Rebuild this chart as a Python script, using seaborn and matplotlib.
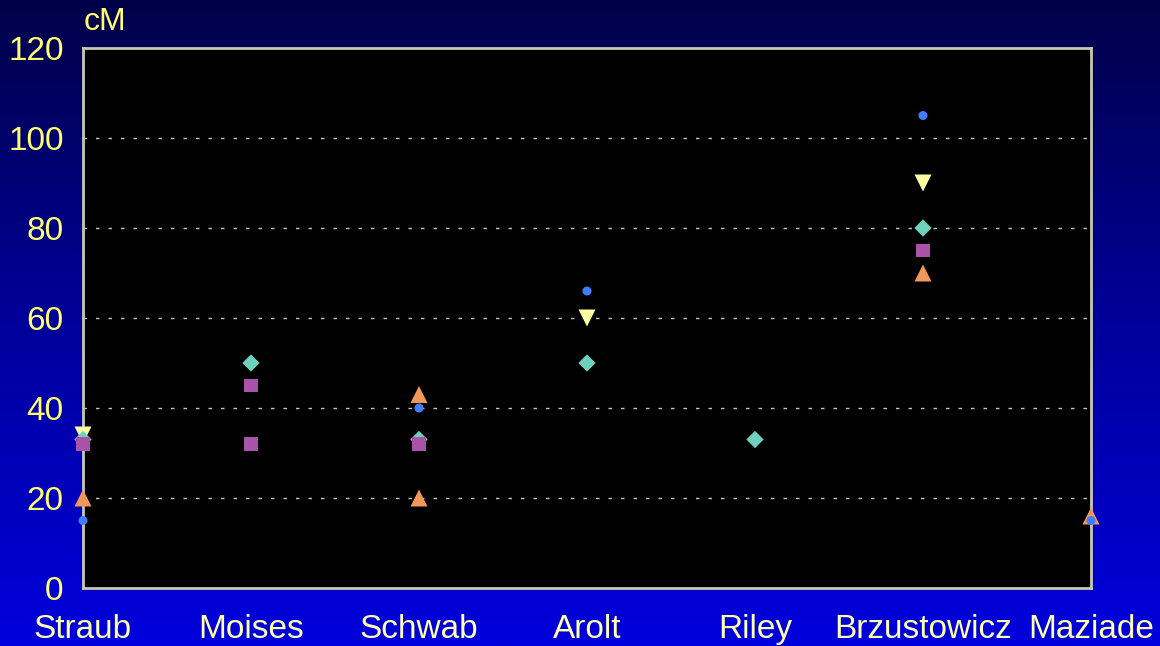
import numpy as np
import pandas as pd
import matplotlib
matplotlib.use("Agg")
import matplotlib.pyplot as plt
import seaborn as sns
from matplotlib.colors import LinearSegmentedColormap

# Linkage peak positions (cM) reported by each study
studies = ["Straub", "Moises", "Schwab", "Arolt", "Riley", "Brzustowicz", "Maziade"]

# One entry per reported peak; drawn in this order (later entries on top)
peak_study = [
    "Straub", "Arolt", "Brzustowicz",                                  # inverted triangles
    "Straub", "Moises", "Schwab", "Arolt", "Riley", "Brzustowicz",     # diamonds
    "Straub", "Schwab", "Schwab", "Brzustowicz", "Maziade",            # triangles
    "Straub", "Moises", "Moises", "Schwab", "Brzustowicz",             # squares
    "Straub", "Schwab", "Arolt", "Brzustowicz", "Maziade",             # circles
]
peak_cm = [
    34, 60, 90,
    33, 50, 33, 50, 33, 80,
    20, 43, 20, 70, 16,
    32, 45, 32, 32, 75,
    15, 40, 66, 105, 15,
]
peak_kind = (["inv"] * 3 + ["diamond"] * 6 + ["tri"] * 5 +
             ["square"] * 5 + ["circle"] * 5)

y_ticks = [0, 20, 40, 60, 80, 100, 120]

df = pd.DataFrame({"study": peak_study, "cM": peak_cm, "kind": peak_kind})
# Position of each study along the category axis, in the listed order
df["pos"] = df["study"].map({s: i for i, s in enumerate(studies)})

palette = {"inv": "#ffffa0", "diamond": "#6fd0be", "tri": "#f0985a",
           "square": "#a852a8", "circle": "#3f7fff"}
markers = {"inv": "v", "diamond": "D", "tri": "^", "square": "s", "circle": "o"}
sizes = {"inv": 150, "diamond": 78, "tri": 150, "square": 88, "circle": 42}

sns.set_theme(style="dark")
plt.rcParams["font.family"] = ["Liberation Sans", "DejaVu Sans"]

fig = plt.figure(figsize=(11.6, 6.46), dpi=100)

# Vertical navy-to-blue gradient behind everything
bg = fig.add_axes([0, 0, 1, 1], zorder=-10)
grad = np.linspace(0, 1, 256).reshape(-1, 1)
cmap = LinearSegmentedColormap.from_list("bg", ["#000048", "#00009a", "#0000dc"])
bg.imshow(grad, aspect="auto", cmap=cmap, extent=[0, 1, 0, 1], origin="upper")
bg.set_axis_off()

ax = fig.add_axes([83 / 1160, 1 - 588 / 646, (1091 - 83) / 1160, (588 - 48) / 646])
ax.set_facecolor("black")

sns.scatterplot(data=df, x="pos", y="cM", hue="kind", style="kind", size="kind",
                palette=palette, markers=markers, sizes=sizes,
                hue_order=list(palette), style_order=list(palette),
                size_order=list(palette), linewidth=0, legend=False,
                clip_on=False, zorder=5, ax=ax)

ax.set_xlim(0, len(studies) - 1)
ax.set_ylim(0, 120)
ax.set_yticks(y_ticks)
ax.set_xticks(range(len(studies)))
ax.set_xticklabels(studies)
ax.set_xlabel("")
ax.set_ylabel("")

ax.grid(False)
for v in y_ticks[1:-1]:
    ax.axhline(v, color="#c8c8b0", lw=1.0, ls=(0, (2.5, 6.5)), zorder=1)

for sp in ax.spines.values():
    sp.set_visible(True)
    sp.set_color("#c8c8b2")
    sp.set_linewidth(2)

ax.tick_params(axis="y", colors="#ffff70", labelsize=24, length=0, pad=14)
ax.tick_params(axis="x", colors="#ffffb0", labelsize=24, length=0, pad=19)
for lab in ax.get_yticklabels():
    lab.set_color("#ffff70")
for lab in ax.get_xticklabels():
    lab.set_color("#ffffb0")

fig.text(84 / 1160, 1 - 22 / 646, "cM", color="#ffff70", fontsize=23,
         ha="left", va="center")

fig.savefig("out.png", dpi=100)
